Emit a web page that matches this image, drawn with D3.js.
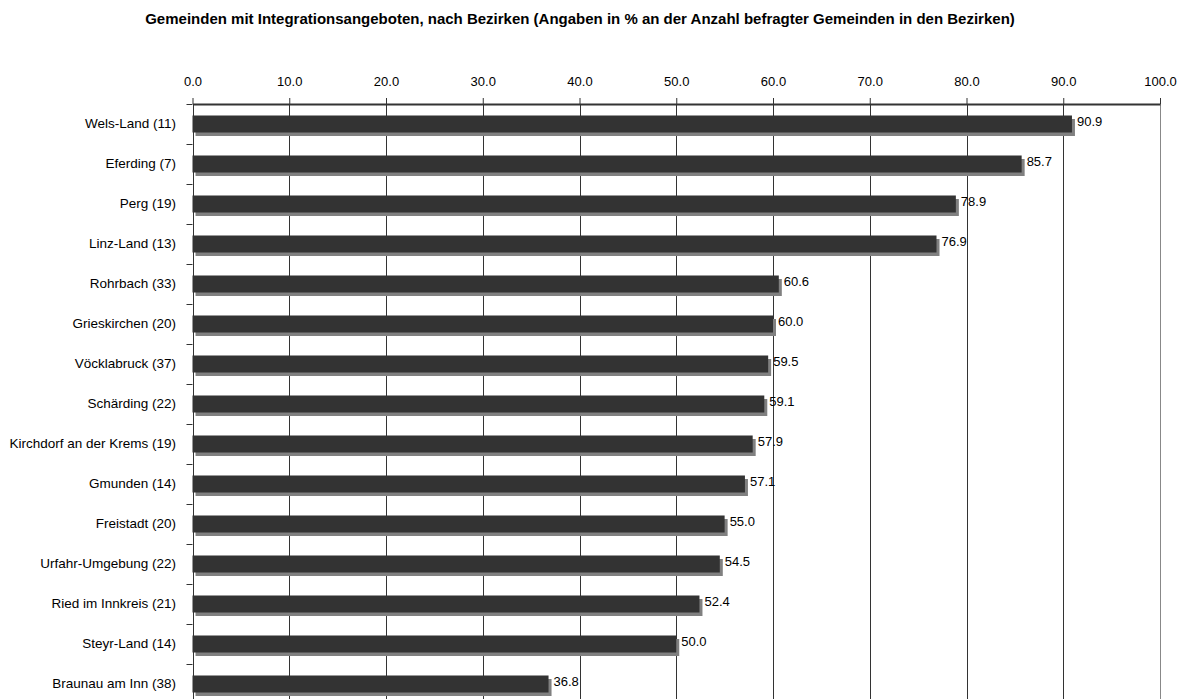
<!DOCTYPE html>
<html>
<head>
<meta charset="utf-8">
<script src="https://cdn.jsdelivr.net/npm/d3@7"></script>
<style>
  body { margin: 0; background: #fff; }
  svg text { font-family: "Liberation Sans", Arial, sans-serif; fill: #000; }
</style>
</head>
<body>
<div id="chart"></div>
<script>
  var title = "Gemeinden mit Integrationsangeboten, nach Bezirken (Angaben in % an der Anzahl befragter Gemeinden in den Bezirken)";

  var districts = [
    "Wels-Land (11)", "Eferding (7)", "Perg (19)", "Linz-Land (13)", "Rohrbach (33)",
    "Grieskirchen (20)", "Vöcklabruck (37)", "Schärding (22)", "Kirchdorf an der Krems (19)",
    "Gmunden (14)", "Freistadt (20)", "Urfahr-Umgebung (22)", "Ried im Innkreis (21)",
    "Steyr-Land (14)", "Braunau am Inn (38)"
  ];
  var shares = [90.9, 85.7, 78.9, 76.9, 60.6, 60.0, 59.5, 59.1, 57.9, 57.1, 55.0, 54.5, 52.4, 50.0, 36.8];
  var xTicks = [0, 10, 20, 30, 40, 50, 60, 70, 80, 90, 100];

  (function () {
    var W = 1181, H = 699;
    var mLeft = 192.5, mRight = 1160, mTop = 104;

    var svg = d3.select("#chart").append("svg")
      .attr("width", W)
      .attr("height", H);

    svg.append("text")
      .attr("x", 580)
      .attr("y", 24)
      .attr("text-anchor", "middle")
      .style("font-size", "15px")
      .style("font-weight", "bold")
      .text(title);

    var x = d3.scaleLinear().domain([0, 100]).range([mLeft, mRight]);
    var y = d3.scaleBand().domain(districts)
      .range([mTop, mTop + districts.length * 40])
      .paddingInner(0.575)
      .paddingOuter(0.2875);

    // vertical gridlines
    svg.append("g")
      .selectAll("line")
      .data(xTicks)
      .enter().append("line")
      .attr("x1", function(d) { return Math.round(x(d)) + 0.5; })
      .attr("x2", function(d) { return Math.round(x(d)) + 0.5; })
      .attr("y1", mTop)
      .attr("y2", H + 10)
      .style("stroke", function(d) { return d === 100 ? "#888" : "#333"; })
      .style("stroke-width", 1);

    // top axis
    var axis = svg.append("g")
      .attr("transform", "translate(0," + mTop + ")")
      .call(d3.axisTop(x).tickValues(xTicks).tickFormat(d3.format(".1f"))
        .tickSizeInner(6).tickSizeOuter(0).tickPadding(12));
    axis.select(".domain").style("stroke", "#333").style("stroke-width", 2);
    axis.selectAll(".tick line").style("stroke", "#333");
    axis.selectAll(".tick text")
      .style("font-size", "13px")
      .style("font-family", "'Liberation Sans', Arial, sans-serif")
      .attr("fill", "#000");

    // left axis line and category ticks
    svg.append("line")
      .attr("x1", Math.round(mLeft) + 0.5).attr("x2", Math.round(mLeft) + 0.5)
      .attr("y1", mTop).attr("y2", H + 10)
      .style("stroke", "#333");

    svg.append("g")
      .selectAll("line")
      .data(districts)
      .enter().append("line")
      .attr("x1", mLeft - 6)
      .attr("x2", mLeft)
      .attr("y1", function(d) { return Math.round(y(d) - y.step() * y.paddingOuter()) + 0.5; })
      .attr("y2", function(d) { return Math.round(y(d) - y.step() * y.paddingOuter()) + 0.5; })
      .style("stroke", "#333");

    // shadows
    svg.append("g")
      .selectAll("rect")
      .data(shares)
      .enter().append("rect")
      .attr("x", x(0) + 3)
      .attr("y", function(d, i) { return y(districts[i]) + 3.5; })
      .attr("width", function(d) { return x(d) - x(0); })
      .attr("height", y.bandwidth())
      .style("fill", "#808080");

    // bars
    svg.append("g")
      .selectAll("rect")
      .data(shares)
      .enter().append("rect")
      .attr("x", x(0))
      .attr("y", function(d, i) { return y(districts[i]); })
      .attr("width", function(d) { return x(d) - x(0); })
      .attr("height", y.bandwidth())
      .style("fill", "#333333");

    // value labels
    svg.append("g")
      .selectAll("text")
      .data(shares)
      .enter().append("text")
      .attr("x", function(d) { return x(d) + 5; })
      .attr("y", function(d, i) { return y(districts[i]) + y.bandwidth() / 2 + 2; })
      .style("font-size", "13px")
      .text(function(d) { return d3.format(".1f")(d); });

    // category labels
    svg.append("g")
      .selectAll("text")
      .data(districts)
      .enter().append("text")
      .attr("x", 176)
      .attr("y", function(d) { return y(d) + y.bandwidth() / 2 + 4; })
      .attr("text-anchor", "end")
      .style("font-size", "13.5px")
      .text(function(d) { return d; });
  })();
</script>
</body>
</html>
